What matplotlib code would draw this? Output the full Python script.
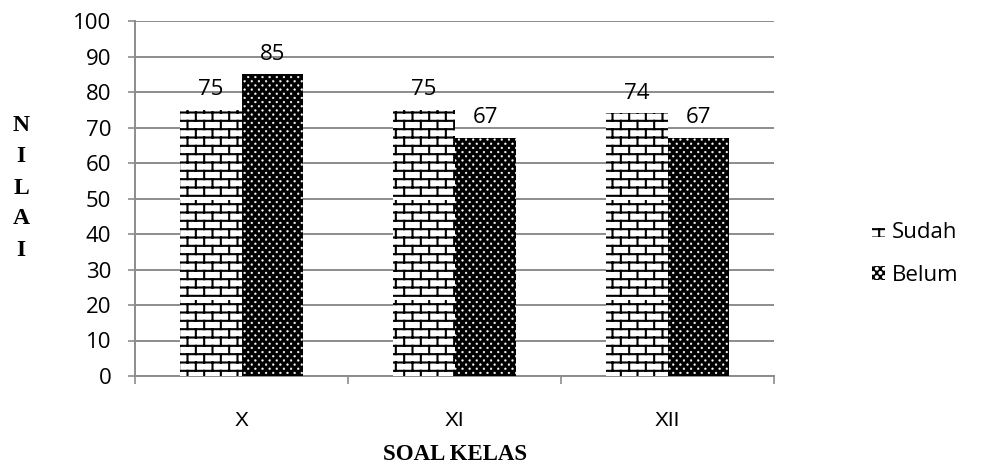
import warnings
warnings.filterwarnings("ignore")
import numpy as np
import matplotlib
matplotlib.use("Agg")
import matplotlib.pyplot as plt
import matplotlib.hatch as mhatch
from matplotlib.path import Path
from matplotlib.patches import Rectangle
from matplotlib import font_manager as fm

# ---------------- data ----------------
categories = ["X", "XI", "XII"]
sudah = [75, 75, 74]
belum = [85, 67, 67]
series_names = ["Sudah", "Belum"]
y_ticks = [0, 10, 20, 30, 40, 50, 60, 70, 80, 90, 100]
x_title = "SOAL KELAS"
y_title = "NILAI"

# ---------------- custom hatches ----------------
class BrickHatch(mhatch.HatchPatternBase):
    rows, cols = 12, 6
    def __init__(self, hatch, density):
        self.on = 'b' in hatch
        self.num_vertices = (self.rows + self.rows * self.cols) * 2 if self.on else 0
    def set_vertices_and_codes(self, vertices, codes):
        v = []
        for r in range(self.rows):
            y0 = (r + 0.5) / self.rows
            v += [(0, y0), (1, y0)]
        for r in range(self.rows):
            y0 = (r + 0.5) / self.rows
            y1 = (r + 1.5) / self.rows
            off = 0.25 / self.cols if r % 2 == 0 else 0.75 / self.cols
            for c in range(self.cols):
                x = c / self.cols + off
                v += [(x, y0), (x, min(y1, 1.0))]
        vertices[:] = np.array(v)
        codes[0::2] = Path.MOVETO
        codes[1::2] = Path.LINETO

class DotHatch(mhatch.HatchPatternBase):
    rows, cols = 24, 14
    r = 0.009
    def __init__(self, hatch, density):
        self.on = 'd' in hatch
        circ = Path.unit_circle()
        self.cv = circ.vertices
        self.cc = circ.codes
        self.num_vertices = self.rows * self.cols * len(self.cv) if self.on else 0
    def set_vertices_and_codes(self, vertices, codes):
        k = 0
        L = len(self.cv)
        for i in range(self.rows):
            y = (i + 0.5) / self.rows
            off = 0.25 / self.cols if i % 2 == 0 else 0.75 / self.cols
            for j in range(self.cols):
                x = j / self.cols + off
                vertices[k:k + L] = self.cv * self.r + (x, y)
                codes[k:k + L] = self.cc
                k += L

mhatch._hatch_types.append(BrickHatch)
mhatch._hatch_types.append(DotHatch)

# ---------------- fonts ----------------
names = {f.name for f in fm.fontManager.ttflist}
num_font = "Open Sans" if "Open Sans" in names else "DejaVu Sans"
cat_font = "Liberation Sans"
serif_font = "Liberation Serif"

plt.rcParams["font.family"] = [num_font, "DejaVu Sans"]
plt.rcParams["hatch.linewidth"] = 1.5

BRICK_LW = 1.5
DOT_LW = 0.3

def style_patch(p, lw):
    if hasattr(p, "set_hatch_linewidth"):
        p.set_hatch_linewidth(lw)

fig = plt.figure(figsize=(9.91, 4.68), dpi=100)
ax = fig.add_axes([135 / 991, 1 - 376 / 468, (774 - 135) / 991, (376 - 21) / 468])

x = np.arange(len(categories))
w = 0.29
b1 = ax.bar(x - w / 2, sudah, w, facecolor="white", edgecolor="black", linewidth=0, hatch="b", zorder=3)
b2 = ax.bar(x + w / 2, belum, w, facecolor="black", edgecolor="white", linewidth=0, hatch="d", zorder=3)
for p in b1:
    style_patch(p, BRICK_LW)
for p in b2:
    style_patch(p, DOT_LW)

ax.bar_label(b1, labels=[str(v) for v in sudah], padding=7, fontsize=16, color="black")
ax.bar_label(b2, labels=[str(v) for v in belum], padding=7, fontsize=16, color="black")

grid_c = "#8c8c8c"
ax.set_ylim(0, 100)
ax.set_xlim(-0.5, len(categories) - 0.5)
ax.set_yticks(y_ticks)
ax.set_yticklabels([str(t) for t in y_ticks], fontsize=16)
ax.yaxis.grid(True, color=grid_c, linewidth=1.4, zorder=0)
ax.set_axisbelow(True)
ax.tick_params(axis="y", direction="out", length=5, width=1.2, color=grid_c, pad=12)

ax.set_xticks(x)
ax.set_xticklabels(categories, fontsize=15, fontfamily=cat_font)
ax.set_xticks(np.arange(-0.5, len(categories), 1.0), minor=True)
ax.tick_params(axis="x", which="major", length=0, pad=25)
ax.tick_params(axis="x", which="minor", direction="out", length=6, width=1.2, color=grid_c)

for s in ["top", "right"]:
    ax.spines[s].set_visible(False)
for s in ["left", "bottom"]:
    ax.spines[s].set_color(grid_c)
    ax.spines[s].set_linewidth(1.4)

fig.text(455 / 991, 1 - 455 / 468, x_title, ha="center", va="center",
         fontfamily=serif_font, fontweight="bold", fontsize=16.5)
pitch = 31
for i, ch in enumerate(y_title):
    fig.text(21 / 991, 1 - (126 + i * pitch) / 468, ch, ha="center", va="center",
             fontfamily=serif_font, fontweight="bold", fontsize=17)

handles = [Rectangle((0, 0), 1, 1, facecolor="white", edgecolor="black", linewidth=0, hatch="b"),
           Rectangle((0, 0), 1, 1, facecolor="black", edgecolor="white", linewidth=0, hatch="d")]
style_patch(handles[0], BRICK_LW)
style_patch(handles[1], DOT_LW)
leg = fig.legend(handles, series_names, loc="center left", bbox_to_anchor=(872 / 991, 1 - 254 / 468),
                 frameon=False, fontsize=16, handlelength=0.6, handleheight=0.6, handletextpad=0.3,
                 labelspacing=1.0, borderaxespad=0, borderpad=0)

fig.savefig("out.png", dpi=100)
